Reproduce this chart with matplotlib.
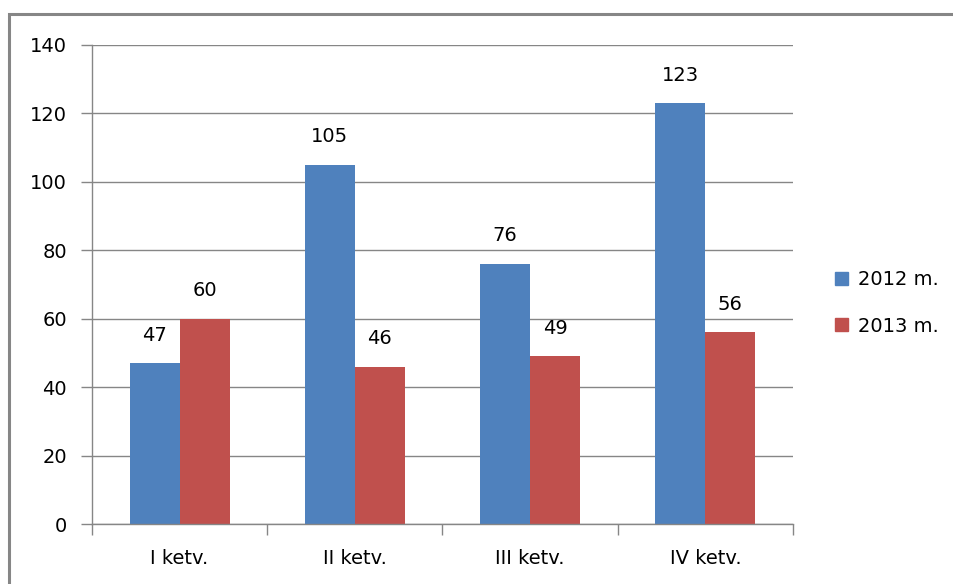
import matplotlib.pyplot as plt
from matplotlib.patches import Rectangle, Patch
import numpy as np

## Data
categories = ['I ketv.', 'II ketv.', 'III ketv.', 'IV ketv.']
series_2012 = [47, 105, 76, 123]
series_2013 = [60, 46, 49, 56]
series_names = ['2012 m.', '2013 m.']
y_ticks = [0, 20, 40, 60, 80, 100, 120, 140]

blue = '#4F81BD'
red = '#C0504D'
grey = '#868686'
fs = 14

fig = plt.figure(figsize=(9.54, 5.84), dpi=100)
ax = fig.add_axes([92/954, 1-524/584, 701/954, 479/584])

x = np.arange(len(categories))
w = 0.285
b1 = ax.bar(x - w/2, series_2012, w, color=blue, label=series_names[0])
b2 = ax.bar(x + w/2, series_2013, w, color=red, label=series_names[1])

# data labels above the bars
for bars in (b1, b2):
    for rect in bars:
        ax.annotate('%d' % rect.get_height(),
                    (rect.get_x() + rect.get_width()/2, rect.get_height()),
                    xytext=(0, 28), textcoords='offset pixels',
                    ha='center', va='center', fontsize=fs)

ax.set_xlim(-0.5, len(categories) - 0.5)
ax.set_ylim(0, 140)
ax.set_yticks(y_ticks)
ax.yaxis.grid(True, color=grey, linewidth=1)
ax.set_axisbelow(True)

# category labels between boundary ticks
ax.set_xticks(np.arange(len(categories) + 1) - 0.5)
ax.set_xticklabels([])
ax.set_xticks(x, minor=True)
ax.set_xticklabels(categories, minor=True, fontsize=fs)
ax.tick_params(axis='x', which='minor', length=0, pad=18)
ax.tick_params(axis='x', which='major', length=8, color=grey, width=1)
ax.tick_params(axis='y', length=8, color=grey, width=1, labelsize=fs, pad=10)

for s in ['top', 'right']:
    ax.spines[s].set_visible(False)
for s in ['left', 'bottom']:
    ax.spines[s].set_color(grey)
    ax.spines[s].set_linewidth(1)

handles = [Patch(color=blue), Patch(color=red)]
fig.legend(handles, series_names, loc='center left',
           bbox_to_anchor=(818/954, 1-303/584), frameon=False, fontsize=fs,
           handlelength=0.65, handleheight=0.65, handletextpad=0.5,
           labelspacing=1.4)

# outer chart border (only top and left visible)
fig.patches.append(Rectangle((9/954, -0.1), 1.2, 1.1 - 14/584, fill=False,
                             edgecolor=grey, linewidth=2.2,
                             transform=fig.transFigure, figure=fig))

fig.savefig('out.png', dpi=100)
